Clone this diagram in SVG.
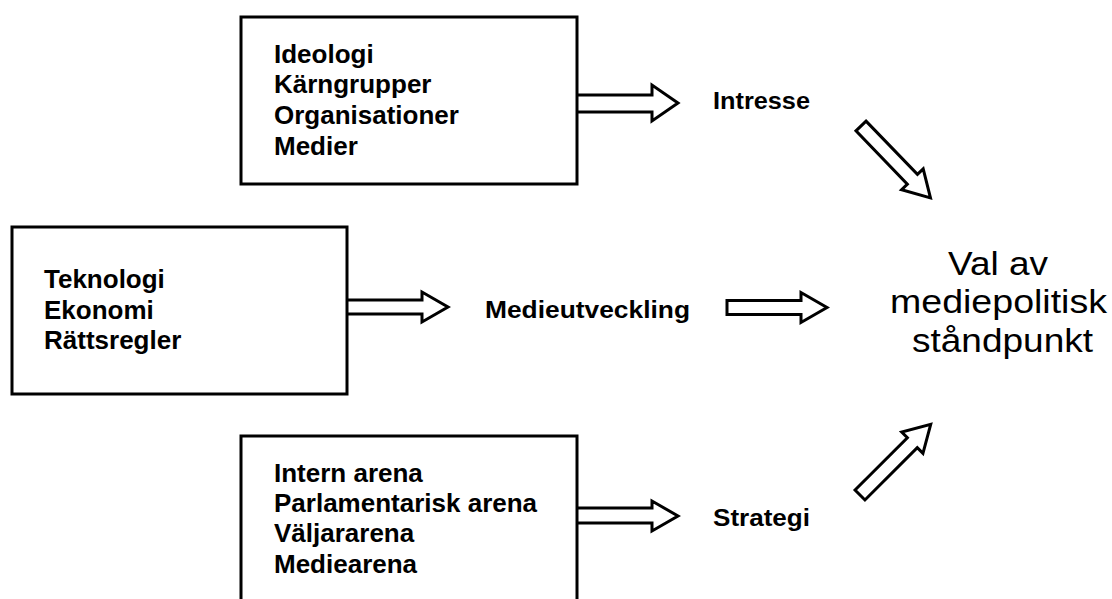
<svg xmlns="http://www.w3.org/2000/svg" width="1112" height="599" viewBox="0 0 1112 599">
  <defs>
    <style>
      .box { fill: #ffffff; stroke: #000000; stroke-width: 3; }
      .arr { fill: #ffffff; stroke: #000000; stroke-width: 3; stroke-linejoin: miter; }
      .bt { font-family: "Liberation Sans", Arial, sans-serif; font-size: 26px; font-weight: bold; fill: #000000; }
      .lbl { font-family: "Liberation Sans", Arial, sans-serif; font-size: 23px; font-weight: bold; fill: #000000; }
      .res { font-family: "Liberation Sans", Arial, sans-serif; font-size: 33px; fill: #000000; }
    </style>
    <path id="fat" d="M0,-7 H74 V-15 L100,0 L74,15 V7 H0 Z"/>
  </defs>
  <rect width="1112" height="599" fill="#ffffff"/>

  <g id="connectors">
    <path class="arr" d="M577,95 H652 V85 L678,103 L652,121 V112 H577"/>
    <path class="arr" d="M347,300 H422 V292 L448,307 L422,322 V314 H347"/>
    <path class="arr" d="M577,508 H652 V501 L678,516 L652,531 V523 H577"/>
    <use href="#fat" class="arr" transform="translate(727,307.5)"/>
    <use href="#fat" class="arr" transform="translate(861,126) rotate(46)"/>
    <use href="#fat" class="arr" transform="translate(860,495) rotate(-45)"/>
  </g>

  <g id="box-top">
    <rect class="box" x="241" y="17" width="336" height="167"/>
    <text class="bt" x="274" y="63">Ideologi</text>
    <text class="bt" x="274" y="93">Kärngrupper</text>
    <text class="bt" x="274" y="124">Organisationer</text>
    <text class="bt" x="274" y="155">Medier</text>
  </g>

  <g id="box-mid">
    <rect class="box" x="12" y="227" width="335" height="167"/>
    <text class="bt" x="44" y="288">Teknologi</text>
    <text class="bt" x="44" y="319">Ekonomi</text>
    <text class="bt" x="44" y="349">Rättsregler</text>
  </g>

  <g id="box-bot">
    <rect class="box" x="241" y="436" width="336" height="200"/>
    <text class="bt" x="274" y="482">Intern arena</text>
    <text class="bt" x="274" y="512">Parlamentarisk arena</text>
    <text class="bt" x="274" y="542">Väljararena</text>
    <text class="bt" x="274" y="573">Mediearena</text>
  </g>

  <g id="intresse">
    <text class="lbl" x="713" y="109" textLength="97" lengthAdjust="spacingAndGlyphs">Intresse</text>
  </g>
  <g id="medieutveckling">
    <text class="lbl" x="485" y="318" textLength="205" lengthAdjust="spacingAndGlyphs">Medieutveckling</text>
  </g>
  <g id="strategi">
    <text class="lbl" x="713" y="526" textLength="97" lengthAdjust="spacingAndGlyphs">Strategi</text>
  </g>

  <g id="result">
    <text class="res" x="948" y="275" textLength="100" lengthAdjust="spacingAndGlyphs">Val av</text>
    <text class="res" x="890" y="313" textLength="217" lengthAdjust="spacingAndGlyphs">mediepolitisk</text>
    <text class="res" x="912" y="352" textLength="181" lengthAdjust="spacingAndGlyphs">ståndpunkt</text>
  </g>
</svg>
